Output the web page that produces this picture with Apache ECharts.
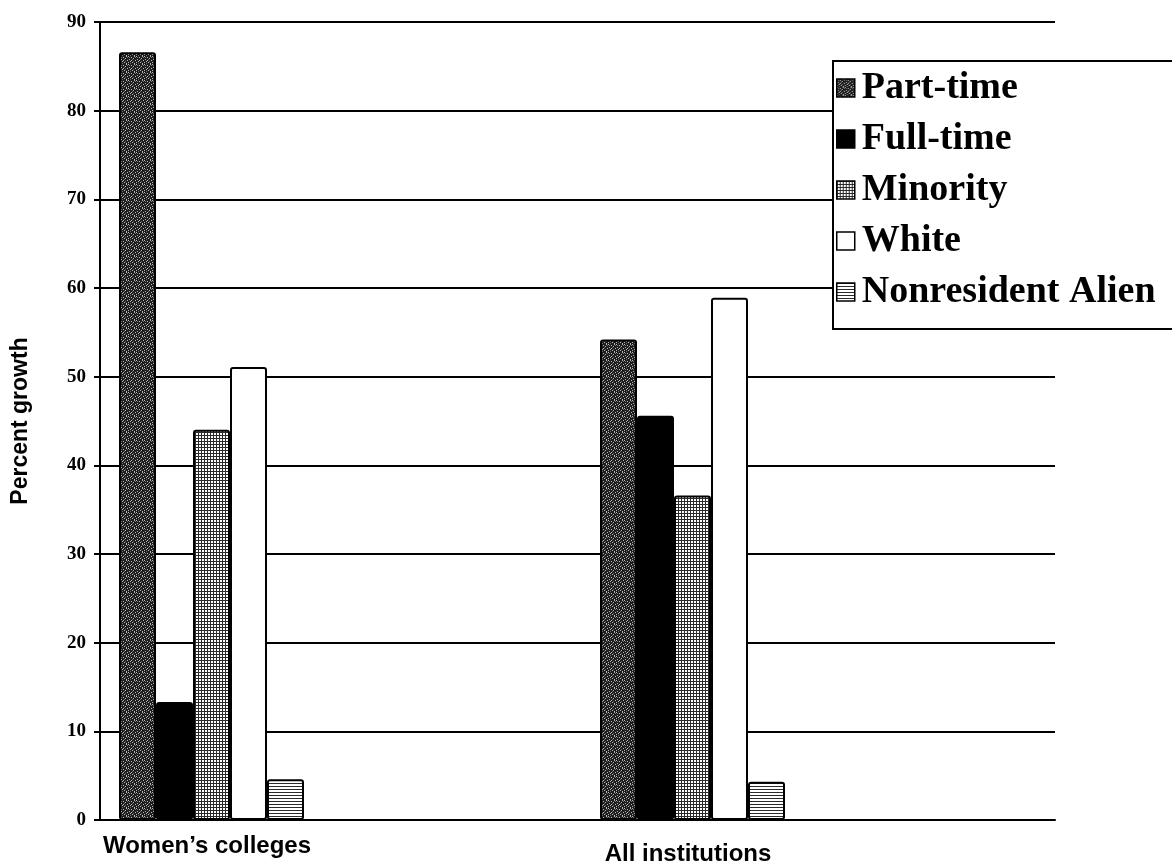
<!DOCTYPE html>
<html>
<head>
<meta charset="utf-8">
<script src="https://cdn.jsdelivr.net/npm/echarts@6/dist/echarts.min.js"></script>
<style>
html,body{margin:0;padding:0;background:#fff;}
#chart{width:1172px;height:868px;}
</style>
</head>
<body>
<div id="chart"></div>
<script>
// ---- data ----
var categories = ["Women\u2019s colleges", "All institutions"];
var seriesNames = ["Part-time", "Full-time", "Minority", "White", "Nonresident Alien"];
var partTime = [86.6, 54.2];
var fullTime = [13.3, 45.6];
var minority = [44.0, 36.6];
var white = [51.1, 58.9];
var nonresident = [4.6, 4.3];
var yTicks = [0, 10, 20, 30, 40, 50, 60, 70, 80, 90];

// ---- fill patterns (style only) ----
function makePattern(w, h, bg, draw) {
  var c = document.createElement('canvas');
  c.width = w; c.height = h;
  var ctx = c.getContext('2d');
  ctx.fillStyle = bg; ctx.fillRect(0, 0, w, h);
  draw(ctx);
  return {image: c, repeat: 'repeat'};
}
var speckle = makePattern(8, 8, '#1e1e1e', function (ctx) {
  ctx.fillStyle = '#b8b8b8';
  var pts = [[0,0],[3,1],[6,0],[1,3],[5,2],[7,4],[2,5],[4,6],[6,7],[0,6],[3,4]];
  pts.forEach(function (p) { ctx.fillRect(p[0], p[1], 1, 1); });
  ctx.fillStyle = '#6a6a6a';
  [[1,1],[4,3],[7,1],[2,7],[5,5]].forEach(function (p) { ctx.fillRect(p[0], p[1], 1, 1); });
});
var mesh = makePattern(3, 3, '#ffffff', function (ctx) {
  ctx.fillStyle = '#2a2a2a';
  ctx.fillRect(0, 0, 3, 1);
  ctx.fillRect(0, 0, 1, 3);
});
var hlines = makePattern(3, 3, '#ffffff', function (ctx) {
  ctx.fillStyle = '#2a2a2a';
  ctx.fillRect(0, 0, 3, 1);
});

var fills = [speckle, '#000000', mesh, '#ffffff', hlines];
var values = [partTime, fullTime, minority, white, nonresident];

var chart = echarts.init(document.getElementById('chart'), null, {renderer: 'canvas'});

var series = seriesNames.map(function (name, i) {
  return {
    name: name,
    type: 'bar',
    xAxisIndex: 1,
    yAxisIndex: 1,
    data: values[i],
    barWidth: 37,
    barGap: '0%',
    itemStyle: {color: fills[i], borderColor: '#000', borderWidth: 2, borderRadius: 2}
  };
});

var option = {
  backgroundColor: '#ffffff',
  animation: false,
  grid: [
    {left: 100, right: 117, top: 22, bottom: 48, outerBoundsMode: 'none', containLabel: false},
    {left: -29, width: 962, top: 22, bottom: 48, outerBoundsMode: 'none', containLabel: false}
  ],
  xAxis: [
    {
      gridIndex: 0, type: 'category', data: categories,
      axisLine: {show: true, lineStyle: {color: '#000', width: 2}},
      axisTick: {show: false}, axisLabel: {show: false}, splitLine: {show: false}
    },
    {
      gridIndex: 1, type: 'category',
      data: [
        {value: categories[0], textStyle: {padding: [0, 9, 0, 0]}},
        {value: categories[1], textStyle: {padding: [8, 9, 0, 0]}}
      ],
      axisLine: {show: false}, axisTick: {show: false}, splitLine: {show: false},
      axisLabel: {
        margin: 14, color: '#000',
        fontFamily: 'Liberation Sans, Arial, sans-serif', fontWeight: 'bold', fontSize: 24
      }
    }
  ],
  yAxis: [
    {
      gridIndex: 0, type: 'value', min: yTicks[0], max: yTicks[yTicks.length - 1], interval: 10,
      name: 'Percent growth', nameLocation: 'middle', nameRotate: 90, nameGap: 68,
      nameTextStyle: {color: '#000', fontFamily: 'Liberation Sans, Arial, sans-serif', fontWeight: 'bold', fontSize: 23},
      axisLine: {show: true, lineStyle: {color: '#000', width: 2}},
      axisTick: {show: true, inside: false, length: 6, lineStyle: {color: '#000', width: 2}},
      axisLabel: {
        margin: 14, color: '#000',
        fontFamily: 'Liberation Serif, Times New Roman, serif', fontWeight: 'bold', fontSize: 19
      },
      splitLine: {show: true, lineStyle: {color: '#000', width: 2}}
    },
    {
      gridIndex: 1, type: 'value', min: yTicks[0], max: yTicks[yTicks.length - 1], interval: 10,
      show: false, splitLine: {show: false}
    }
  ],
  legend: {
    orient: 'vertical', left: 833, top: 61,
    padding: [8, 60, 18, 3], itemGap: 13, itemWidth: 18, itemHeight: 18,
    icon: 'rect',
    borderColor: '#000', borderWidth: 2, backgroundColor: '#ffffff',
    selectedMode: false,
    itemStyle: {borderColor: '#000', borderWidth: 1.5},
    textStyle: {color: '#000', fontFamily: 'Liberation Serif, Times New Roman, serif', fontWeight: 'bold', fontSize: 38, padding: [0, 0, 0, 2]},
    data: seriesNames
  },
  series: series
};
chart.setOption(option);
</script>
</body>
</html>
